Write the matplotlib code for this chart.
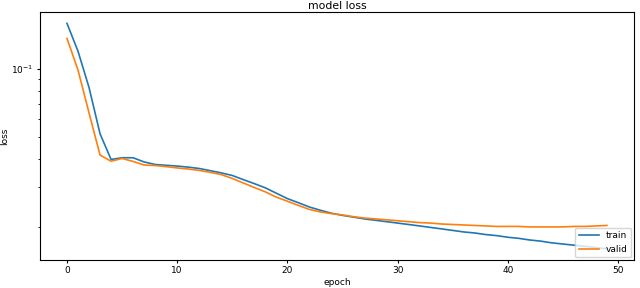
import numpy as np
import matplotlib
matplotlib.use("Agg")
import matplotlib.pyplot as plt

epochs = list(range(50))

train_loss = [0.1595, 0.120, 0.0829, 0.0517, 0.0398, 0.0405, 0.0405, 0.0388, 0.0378, 0.0375,
              0.0372, 0.0368, 0.0363, 0.0355, 0.0347, 0.0338, 0.0324, 0.0311, 0.0298, 0.0282,
              0.0267, 0.0256, 0.0245, 0.0237, 0.0230, 0.0225, 0.0221, 0.0217, 0.0214, 0.0211,
              0.0208, 0.0205, 0.0202, 0.0199, 0.0196, 0.0193, 0.0190, 0.0188, 0.0185, 0.0183,
              0.0180, 0.0178, 0.0175, 0.0173, 0.0170, 0.0168, 0.0166, 0.0164, 0.0162, 0.0160]

valid_loss = [0.1368, 0.099, 0.064, 0.0416, 0.0391, 0.0402, 0.0390, 0.0376, 0.0374, 0.0370,
              0.0365, 0.0361, 0.0356, 0.0349, 0.0341, 0.0328, 0.0313, 0.0299, 0.0286, 0.0271,
              0.0260, 0.0249, 0.0239, 0.0233, 0.0229, 0.0226, 0.0222, 0.0219, 0.0217, 0.0215,
              0.0213, 0.0211, 0.0209, 0.0208, 0.0206, 0.0205, 0.0204, 0.0203, 0.0202, 0.0201,
              0.0201, 0.0201, 0.0200, 0.0200, 0.0200, 0.0200, 0.0201, 0.0201, 0.0202, 0.0203]

plt.rcParams['font.size'] = 6.5
plt.rcParams['axes.linewidth'] = 0.8

fig = plt.figure(figsize=(6.4, 2.88), dpi=100)
ax = fig.add_axes([0.0625, 0.097, 0.928, 0.861])

ax.plot(epochs, train_loss, label='train', lw=1.2)
ax.plot(epochs, valid_loss, label='valid', lw=1.2)
ax.set_yscale('log')
ax.set_title('model loss', pad=2)
ax.set_xlabel('epoch', labelpad=2)
ax.set_ylabel('loss', labelpad=2)
ax.tick_params(length=2.5, pad=2)
ax.tick_params(which='minor', length=1.5)
ax.legend(loc='lower right', borderaxespad=0.3, handlelength=2.2)

fig.savefig('out.png', dpi=100)
